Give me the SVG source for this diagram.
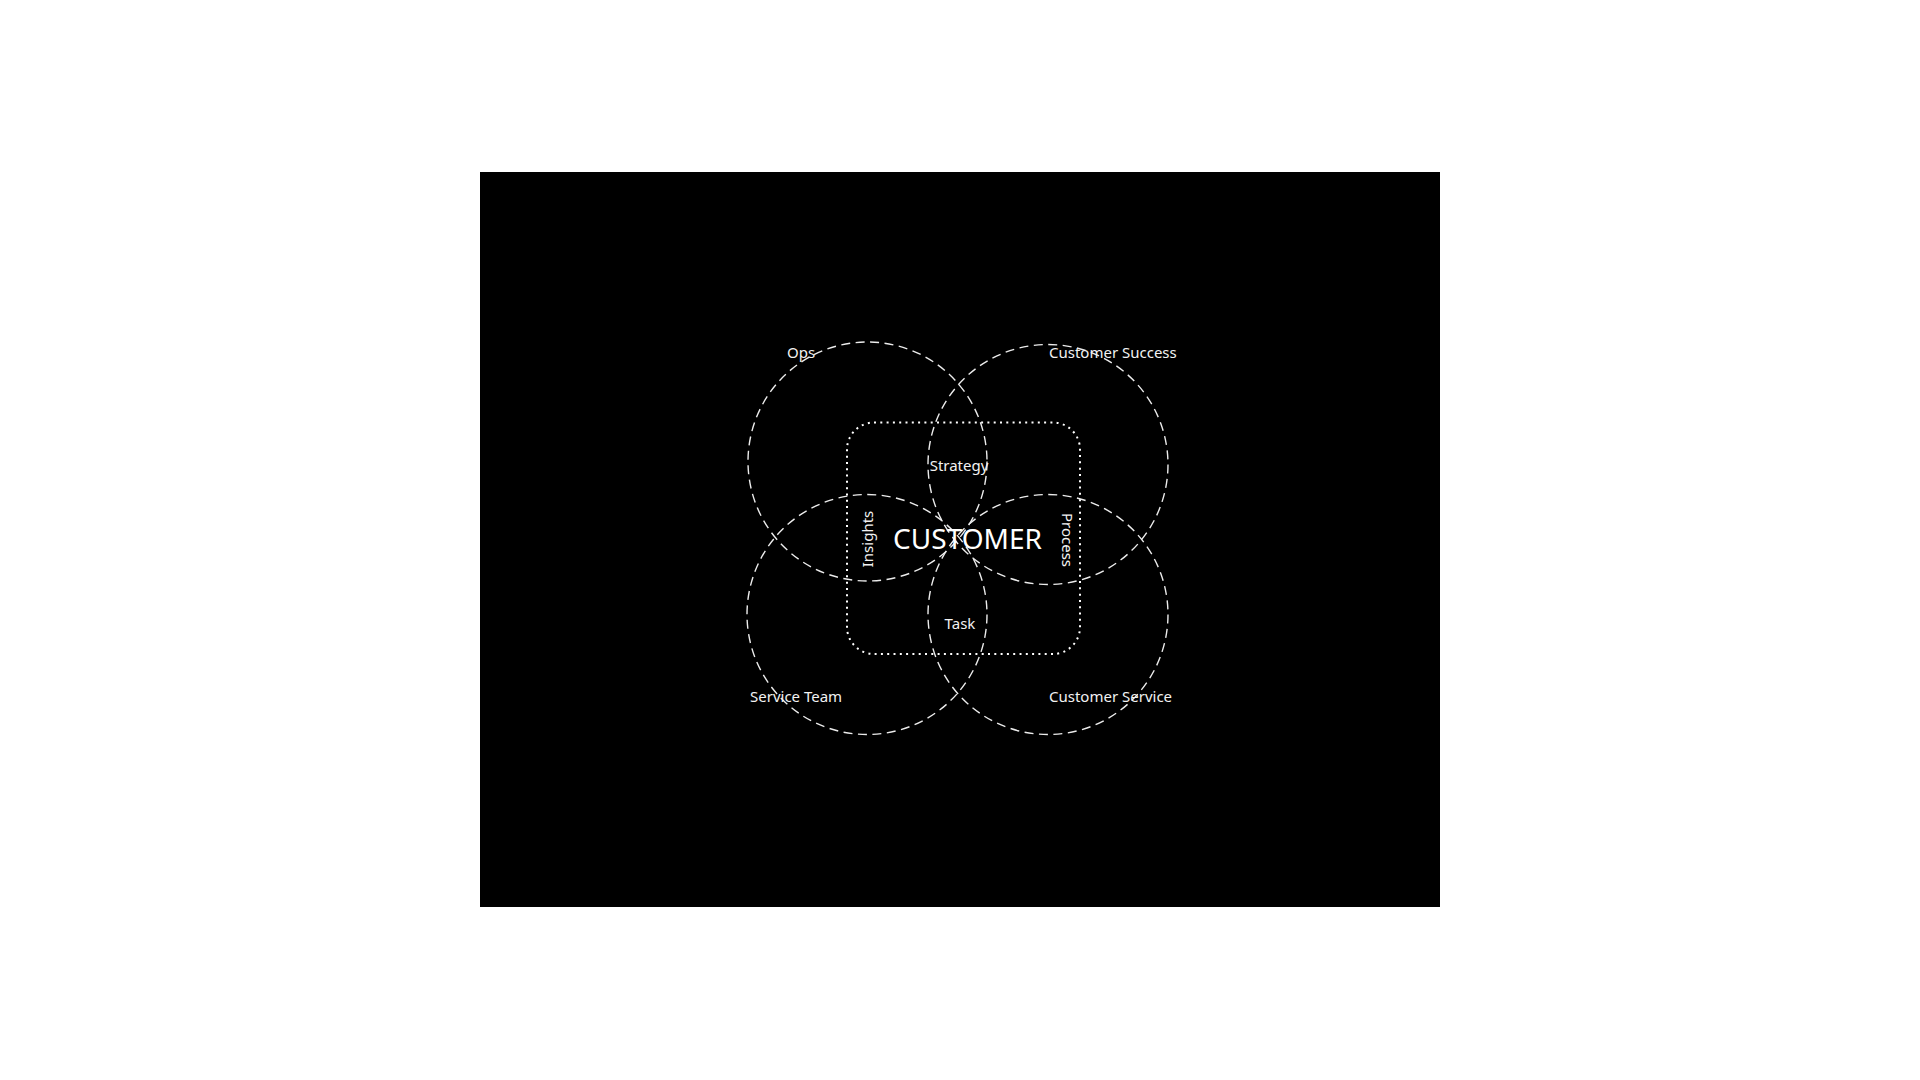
<svg xmlns="http://www.w3.org/2000/svg" width="1920" height="1080" viewBox="0 0 1920 1080">
  <style>
    .ring { fill: none; stroke: #ececec; stroke-width: 1.4; stroke-dasharray: 9 5.5; }
    .core { fill: none; stroke: #ffffff; stroke-width: 2; stroke-dasharray: 2 4.3; }
    .lbl { fill: #f2f2f2; font-family: "Noto Sans", "Open Sans", "Liberation Sans", sans-serif; font-size: 15px; }
    .big { fill: #ffffff; font-family: "Noto Sans", "Open Sans", "Liberation Sans", sans-serif; font-size: 28px; }
  </style>
  <rect x="0" y="0" width="1920" height="1080" fill="#ffffff"/>
  <rect x="480" y="172" width="960" height="735" fill="#000000"/>
  <g id="connectors"></g>
  <g id="ops">
    <circle class="ring" cx="867.5" cy="461.5" r="119.5"/>
    <text class="lbl" x="787" y="358">Ops</text>
  </g>
  <g id="customer-success">
    <circle class="ring" cx="1048" cy="464.5" r="120"/>
    <text class="lbl" x="1049" y="358">Customer Success</text>
  </g>
  <g id="service-team">
    <circle class="ring" cx="867" cy="614.5" r="120"/>
    <text class="lbl" x="750" y="702">Service Team</text>
  </g>
  <g id="customer-service">
    <circle class="ring" cx="1048" cy="614.5" r="120"/>
    <text class="lbl" x="1049" y="702">Customer Service</text>
  </g>
  <g id="customer">
    <rect class="core" x="847" y="422.5" width="233" height="231.5" rx="27" ry="27"/>
    <text class="big" x="967.5" y="549.3" text-anchor="middle">CUSTOMER</text>
  </g>
  <g id="strategy">
    <text class="lbl" x="959" y="471" text-anchor="middle">Strategy</text>
  </g>
  <g id="task">
    <text class="lbl" x="960" y="629" text-anchor="middle">Task</text>
  </g>
  <g id="insights">
    <text class="lbl" x="0" y="0" text-anchor="middle" transform="translate(873 539) rotate(-90)">Insights</text>
  </g>
  <g id="process">
    <text class="lbl" x="0" y="0" text-anchor="middle" transform="translate(1062 540) rotate(90)">Process</text>
  </g>
</svg>
